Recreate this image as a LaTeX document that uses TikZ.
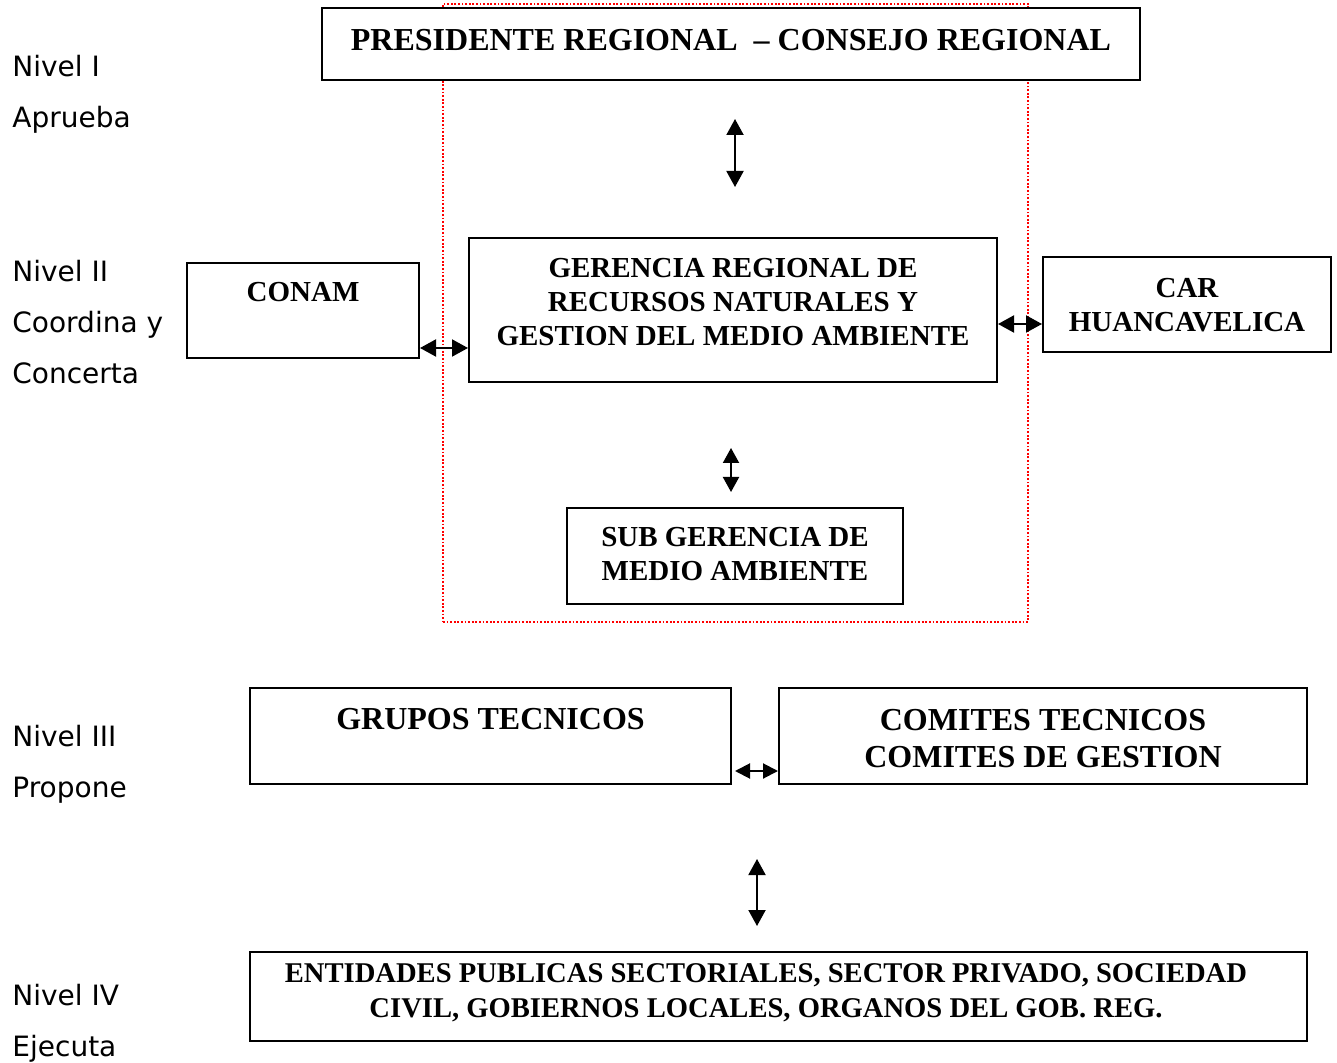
\documentclass[tikz,border=0pt]{standalone}
\usepackage{fontspec}
\setmainfont{Liberation Serif}
\newfontfamily\levelfont{DejaVu Sans}
\usetikzlibrary{arrows.meta}

\tikzset{
  box/.style={draw, line width=1pt, fill=white, inner sep=0pt},
  boxtext/.style={font=\bfseries\fontsize{14.5}{17}\selectfont, align=center, inner sep=0pt},
  bigtext/.style={font=\bfseries\fontsize{16}{18.5}\selectfont, align=center, inner sep=0pt},
  level/.style={font=\levelfont\fontsize{14}{25.5}\selectfont, align=left, inner sep=0pt, anchor=north west},
  link/.style={line width=1pt, {Triangle[width=8.5pt,length=8pt]}-{Triangle[width=8.5pt,length=8pt]}},
  frame/.style={draw=red, line width=1.2pt, dash pattern=on 0.9pt off 0.9pt, inner sep=0pt}
}

\begin{document}
\begin{tikzpicture}[x=0.5pt, y=-0.5pt]
  \useasboundingbox (0,0) rectangle (1337,1063);

  % red dotted frame round the regional bodies
  \node[frame, minimum width=292.5pt, minimum height=309pt] (frame) at (735.5,313) {};

  % boxes
  \node[box, minimum width=409pt, minimum height=36pt] (pres) at (731,44) {};
  \node[box, minimum width=116pt, minimum height=47.5pt] (conam) at (303,310.5) {};
  \node[box, minimum width=264pt, minimum height=72pt] (ger) at (733,310) {};
  \node[box, minimum width=144pt, minimum height=47.5pt] (car) at (1187,304.5) {};
  \node[box, minimum width=168pt, minimum height=48pt] (sub) at (735,556) {};
  \node[box, minimum width=240.5pt, minimum height=48pt] (grupos) at (490.5,736) {};
  \node[box, minimum width=264pt, minimum height=48pt] (comites) at (1043,736) {};
  \node[box, minimum width=528.5pt, minimum height=44.5pt] (ent) at (778.5,996.5) {};

  % texts of the boxes
  \node[bigtext, anchor=base] (presT) at (731,51) {PRESIDENTE REGIONAL\ \ – CONSEJO REGIONAL};
  \node[boxtext, anchor=base] (conamT) at (303,302) {CONAM};
  \node[boxtext, anchor=north] (gerT) at (733,258) {GERENCIA REGIONAL DE\\RECURSOS NATURALES Y\\GESTION DEL MEDIO AMBIENTE};
  \node[boxtext, anchor=north] (carT) at (1187,278) {CAR\\HUANCAVELICA};
  \node[boxtext, anchor=north] (subT) at (735,527) {SUB GERENCIA DE\\MEDIO AMBIENTE};
  \node[bigtext, anchor=base] (gruposT) at (490.5,729) {GRUPOS TECNICOS};
  \node[bigtext, anchor=north] (comitesT) at (1043,709) {COMITES TECNICOS\\COMITES DE GESTION};
  \node[boxtext, font=\bfseries\fontsize{14.3}{17.5}\selectfont, anchor=north] (entT) at (766,963.5)
    {ENTIDADES PUBLICAS SECTORIALES, SECTOR PRIVADO, SOCIEDAD\\CIVIL, GOBIERNOS LOCALES, ORGANOS DEL GOB. REG.};

  % levels
  \node[level] (lvlI) at (12,55) {Nivel I\\Aprueba};
  \node[level] (lvlII) at (12,260) {Nivel II\\Coordina y\\Concerta};
  \node[level] (lvlIII) at (12,725) {Nivel III\\Propone};
  \node[level] (lvlIV) at (12,984) {Nivel IV\\Ejecuta};

  % links
  \draw[link, shorten <=19pt, shorten >=25pt] ([xshift=2pt]pres.south) -- ([xshift=2pt]pres.south |- ger.north);
  \draw[link] ([yshift=-18.75pt]conam.east) -- ([yshift=-18.75pt]conam.east -| ger.west);
  \draw[link] ([yshift=-9.75pt]ger.east |- car.west) -- ([yshift=-9.75pt]car.west);
  \draw[link, {Triangle[width=8pt,length=7.5pt]}-{Triangle[width=8pt,length=7.5pt]}, shorten <=32.5pt, shorten >=7.5pt] ([xshift=-1pt]ger.south) -- ([xshift=-1pt]ger.south |- sub.north);
  \draw[link, {Triangle[width=7.5pt,length=7.5pt]}-{Triangle[width=7.5pt,length=7.5pt]}, shorten <=1.5pt] ([yshift=-17.5pt]grupos.east) -- ([yshift=-17.5pt]comites.west);
  \draw[link, shorten <=37pt, shorten >=12.5pt] ([xshift=-10.75pt]ent.north |- comites.south) -- ([xshift=-10.75pt]ent.north);
\end{tikzpicture}
\end{document}
